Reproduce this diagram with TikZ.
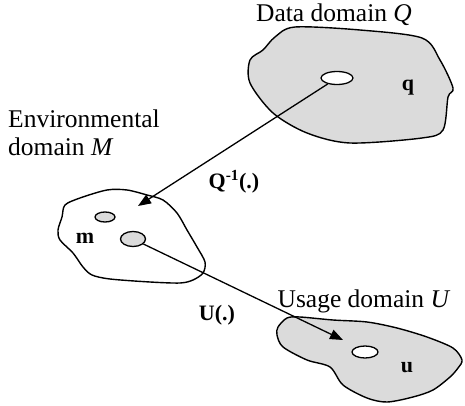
\documentclass[tikz,border=0pt]{standalone}
\usepackage{fontspec}
\setmainfont{Liberation Serif}
\usetikzlibrary{arrows.meta,shapes.geometric}
\begin{document}
\begin{tikzpicture}[x=1pt,y=-1pt,
  blob/.style={draw=black, line width=1.4pt, line join=round},
  shaded/.style={blob, fill=gray!28},
  hole/.style={ellipse, draw, line width=1.3pt, inner sep=0pt},
  conn/.style={line width=1.3pt, -{Triangle[length=13pt,width=10pt]}},
  caption/.style={font=\fontsize{25.5}{28}\selectfont, inner sep=0pt},
  tag/.style={font=\fontsize{22}{24}\selectfont\bfseries, inner sep=0pt}]
\useasboundingbox (0,0) rectangle (465,406);

% data domain Q
\draw[shaded] plot[smooth cycle, tension=0.5] coordinates {
  (295,27) (360,30) (422,38) (440,60) (453,88) (448,97) (443,130)
  (422,138) (350,143) (307,133) (273,113) (250,83) (250,60) (263,50) (275,37)};
\node[hole, fill=white, minimum width=32pt, minimum height=13pt] (qhole) at (337,78) {};
\node[tag] (qlab) at (408,88) {q};
\node[caption, anchor=base] (qcap) at (334,22) {Data domain \textit{Q}};

% environmental domain M
\draw[blob] plot[smooth cycle, tension=0.5] coordinates {
  (65,205) (80,198) (107,190) (127,190) (147,195) (163,200) (177,213)
  (187,230) (197,247) (205,262) (203,273) (193,280) (180,283) (150,282)
  (110,279) (92,275) (83,267) (73,253) (60,240) (58,230) (62,217)};
\node[hole, fill=gray!28, minimum width=20pt, minimum height=10pt] (msmall) at (105,217) {};
\node[hole, fill=gray!28, minimum width=25pt, minimum height=15pt] (mbig) at (133,239) {};
\node[tag] (mlab) at (85,238) {m};
\node[caption, anchor=north west, align=left] (mcap) at (8,110)
  {Environmental\\domain \textit{M}};

% usage domain U
\draw[shaded] plot[smooth cycle, tension=0.5] coordinates {
  (278,327) (287,318) (300,317) (333,320) (367,322) (397,328) (427,337)
  (453,348) (462,360) (458,368) (450,377) (433,390) (413,397) (387,402)
  (367,398) (343,385) (330,367) (307,360) (283,347) (277,335)};
\node[hole, fill=white, minimum width=26pt, minimum height=12pt] (uhole) at (365,352) {};
\node[tag] (ulab) at (407,368) {u};
\node[caption, anchor=base] (ucap) at (364,307) {Usage domain \textit{U}};

% mappings between the domains
\coordinate (mtip) at (138,206);
\coordinate (utip) at (343,340);
\draw[conn] (qhole) -- (mtip);
\draw[conn] (mbig) -- (utip);
\node[tag] (qinv) at (234,182) {Q\textsuperscript{-1}(.)};
\node[tag] (umap) at (217,315) {U(.)};
\end{tikzpicture}
\end{document}
